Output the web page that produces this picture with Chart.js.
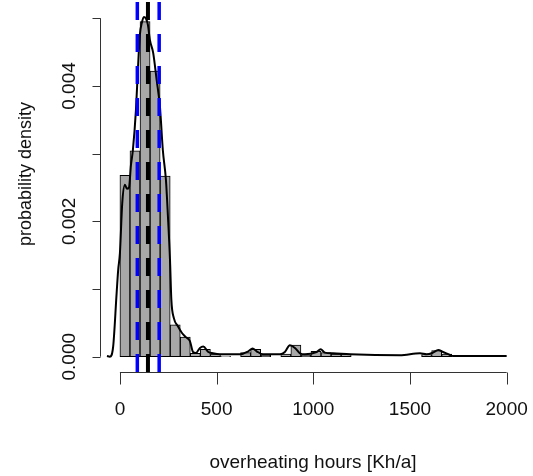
<!DOCTYPE html>
<html>
<head>
<meta charset="utf-8">
<script src="https://cdn.jsdelivr.net/npm/chart.js@4.4.1/dist/chart.umd.min.js"></script>
<style>
  html, body { margin: 0; padding: 0; background: #fff; }
</style>
</head>
<body>
<canvas id="histChart" width="533" height="476"></canvas>
<script>
// histogram bins (mid points, width 52) and their densities
const binMids = [26, 78, 130, 182, 234, 286, 338, 390, 442, 494, 546, 598, 650, 702, 754, 806, 858,
  910, 962, 1014, 1066, 1118, 1170, 1222, 1274, 1326, 1378, 1430, 1482, 1534, 1586, 1638, 1690];
const binDensity = [0.00268, 0.00304, 0.00495, 0.00422, 0.00267, 0.00047, 0.00029, 0.00005, 0.00011,
  0.00004, 0.00001, 0, 0.00006, 0.00011, 0.00002, 0, 0.00004, 0.00017, 0.00002, 0.00008, 0.00006,
  0.00004, 0.00004, 0, 0, 0, 0, 0, 0, 0, 0.00003, 0.00009, 0.00004];

// kernel density estimate
const densX = [-67, -52, -35, -17, -9, 0, 12, 26, 36, 47, 57, 67, 83, 93, 103, 114, 124, 134, 145, 155,
  172, 190, 207, 222, 238, 248, 259, 266, 279, 300, 321, 341, 362, 378, 393, 414, 431, 457, 481, 517,
  621, 664, 686, 707, 740, 828, 853, 879, 905, 931, 957, 1017, 1038, 1060, 1102, 1190, 1448, 1552,
  1586, 1619, 1646, 1671, 1707, 1722, 2000];
const densY = [0.00001, 0, 0.000148, 0.00094, 0.00128, 0.00153, 0.00227, 0.00254, 0.00248, 0.0025,
  0.00283, 0.00305, 0.00365, 0.00424, 0.00475, 0.00494, 0.00502, 0.005, 0.0049, 0.00468, 0.00449,
  0.00409, 0.00369, 0.00305, 0.00261, 0.00209, 0.00143, 0.00084, 0.00057, 0.00045, 0.00035, 0.00029,
  0.00023, 0.00007, 0.000055, 0.00013, 0.00015, 0.00007, 0.00005, 0.000035, 0.000035, 0.00008,
  0.00012, 0.00008, 0.000035, 0.000035, 0.00007, 0.00017, 0.00013, 0.00005, 0.000035, 0.00007,
  0.00011, 0.00006, 0.00005, 0.000035, 0.00002, 0.00005, 0.000035, 0.00006, 0.0001, 0.00007,
  0.000025, 0.00001, 0.00001];

// median and quantile markers
const medianLine = 145;
const quantileLines = [90, 203];

// axes
const xTicks = [0, 500, 1000, 1500, 2000];
const xTickLabels = ['0', '500', '1000', '1500', '2000'];
const yTicks = [0, 0.001, 0.002, 0.003, 0.004, 0.005];
const yTickLabels = ['0.000', '', '0.002', '', '0.004', ''];
const xTitle = 'overheating hours [Kh/a]';
const yTitle = 'probability density';

const xMin = -103, xMax = 2100;
const yMin = -0.000226, yMax = 0.00527;

const FONT = '19px "Liberation Sans", Arial, sans-serif';

function vline(x, color, width) {
  return {
    type: 'line',
    data: [{ x: x, y: yMin }, { x: x, y: yMax }],
    borderColor: color,
    borderWidth: width,
    borderDash: [18, 14],
    pointRadius: 0,
    fill: false,
    order: 0
  };
}

// R style axes: line only from first to last tick, labels parallel to axis
const rAxes = {
  id: 'rAxes',
  afterDraw(chart) {
    const { ctx, chartArea } = chart;
    const xs = chart.scales.x, ys = chart.scales.y;
    ctx.save();
    ctx.strokeStyle = '#333';
    ctx.lineWidth = 1;

    const by = Math.round(chartArea.bottom) + 0.5;
    ctx.beginPath();
    ctx.moveTo(xs.getPixelForValue(xTicks[0]), by);
    ctx.lineTo(xs.getPixelForValue(xTicks[xTicks.length - 1]), by);
    xTicks.forEach(v => {
      const px = Math.round(xs.getPixelForValue(v)) + 0.5;
      ctx.moveTo(px, by);
      ctx.lineTo(px, by + 12);
    });
    ctx.stroke();

    const lx = Math.round(chartArea.left) + 0.5;
    ctx.beginPath();
    ctx.moveTo(lx, ys.getPixelForValue(yTicks[0]));
    ctx.lineTo(lx, ys.getPixelForValue(yTicks[yTicks.length - 1]));
    yTicks.forEach(v => {
      const py = Math.round(ys.getPixelForValue(v)) + 0.5;
      ctx.moveTo(lx, py);
      ctx.lineTo(lx - 8, py);
    });
    ctx.stroke();

    ctx.fillStyle = '#111';
    ctx.font = FONT;
    ctx.textAlign = 'center';
    ctx.textBaseline = 'middle';
    xTicks.forEach((v, i) => {
      ctx.fillText(xTickLabels[i], xs.getPixelForValue(v), 410);
    });
    ctx.fillText(xTitle, (chartArea.left + chartArea.right) / 2, 463);

    yTicks.forEach((v, i) => {
      if (!yTickLabels[i]) return;
      ctx.save();
      ctx.translate(70, ys.getPixelForValue(v));
      ctx.rotate(-Math.PI / 2);
      ctx.fillText(yTickLabels[i], 0, 0);
      ctx.restore();
    });
    ctx.save();
    ctx.translate(26, 174);
    ctx.rotate(-Math.PI / 2);
    ctx.font = '18px "Liberation Sans", Arial, sans-serif';
    ctx.fillText(yTitle, 0, 0);
    ctx.restore();
    ctx.restore();
  }
};

new Chart(document.getElementById('histChart'), {
  type: 'bar',
  data: {
    datasets: [
      vline(medianLine, '#000000', 4),
      vline(quantileLines[0], '#0000ff', 3.5),
      vline(quantileLines[1], '#0000ff', 3.5),
      {
        type: 'line',
        data: densX.map((x, i) => ({ x: x, y: densY[i] })),
        borderColor: '#000000',
        borderWidth: 2,
        pointRadius: 0,
        cubicInterpolationMode: 'monotone',
        fill: false,
        order: 1
      },
      {
        type: 'bar',
        data: binMids.map((x, i) => ({ x: x, y: binDensity[i] })),
        backgroundColor: '#a8a8a8',
        borderColor: '#000000',
        borderWidth: 1,
        borderSkipped: false,
        barPercentage: 1,
        categoryPercentage: 1,
        order: 2
      }
    ]
  },
  options: {
    responsive: false,
    animation: false,
    layout: { padding: { left: 100, right: 7, top: 0, bottom: 104 } },
    plugins: { legend: { display: false }, tooltip: { enabled: false } },
    scales: {
      x: {
        type: 'linear', min: xMin, max: xMax, offset: false, display: false,
        afterBuildTicks: s => { s.ticks = xTicks.map(v => ({ value: v })); }
      },
      y: {
        type: 'linear', min: yMin, max: yMax, display: false,
        afterBuildTicks: s => { s.ticks = yTicks.map(v => ({ value: v })); }
      }
    }
  },
  plugins: [rAxes]
});
</script>
</body>
</html>
